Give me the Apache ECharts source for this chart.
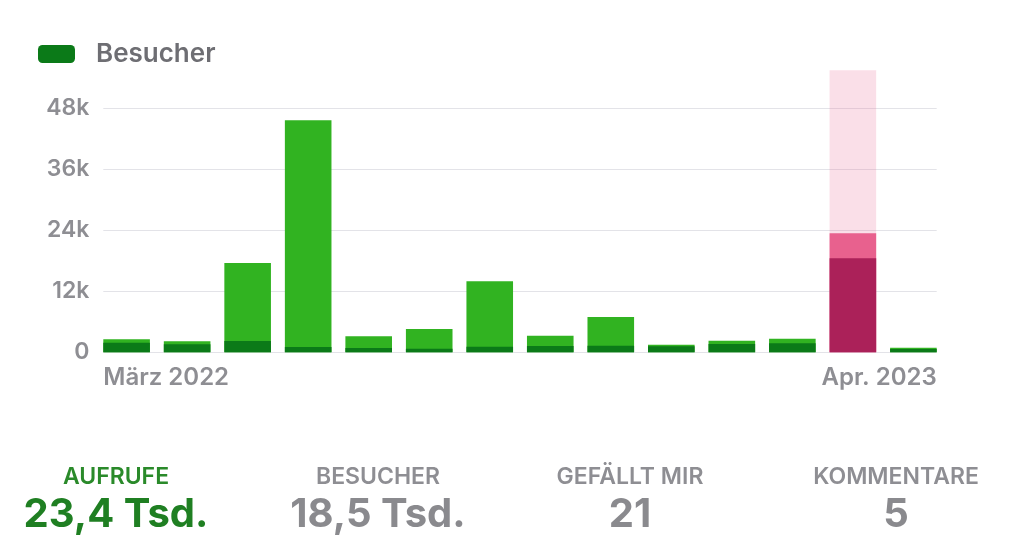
<!DOCTYPE html>
<html>
<head>
<meta charset="utf-8">
<script src="https://cdn.jsdelivr.net/npm/echarts@6/dist/echarts.min.js"></script>
<style>
html,body{margin:0;padding:0;background:#fff;}
#c{width:1023px;height:559px;}
</style>
</head>
<body>
<div id="c"></div>
<script>
// ---- data ----
const months = ["März 2022","Apr. 2022","Mai 2022","Juni 2022","Juli 2022","Aug. 2022","Sept. 2022","Okt. 2022","Nov. 2022","Dez. 2022","Jan. 2023","Feb. 2023","März 2023","Apr. 2023"];
const aufrufe = [2560, 2160, 17570, 45640, 3150, 4580, 13970, 3270, 6940, 1500, 2280, 2680, 23400, 900];
const besucher = [1890, 1570, 2220, 1040, 850, 720, 1100, 1240, 1300, 1180, 1630, 1770, 18500, 650];
const selectedIndex = 12;
const selectionTop = 55500;
const yTickLabels = ["0", "12k", "24k", "36k", "48k"];
const statLabels = ["AUFRUFE", "BESUCHER", "GEFÄLLT MIR", "KOMMENTARE"];
const statValues = ["23,4 Tsd.", "18,5 Tsd.", "21", "5"];

// ---- styles ----
const FONT = 'Inter, Roboto, "Noto Sans", sans-serif';
const C = {
  lightGreen: '#31b321', darkGreen: '#0b7a18',
  selBg: 'rgba(236,120,160,0.24)', selViews: '#e8618e', selVisitors: '#ab2159',
  grid: '#e3e3e8', axisText: '#8e8e93', legendText: '#6e6e73'
};
const xMin = -0.385, xMax = 13.385;
const statCenters = [116, 378, 630, 896];

const chart = echarts.init(document.getElementById('c'), null, {renderer: 'canvas'});

const viewsData = aufrufe.map((v, i) => i === selectedIndex
  ? {value: [i, v], itemStyle: {color: C.selViews}} : {value: [i, v]});
const visitorsData = besucher.map((v, i) => i === selectedIndex
  ? {value: [i, v], itemStyle: {color: C.selVisitors}} : {value: [i, v]});
const selData = months.map((m, i) => i === selectedIndex ? [i, selectionTop] : [i, '-']);

const graphics = [];
statLabels.forEach((t, i) => {
  graphics.push({
    type: 'text', x: statCenters[i], y: 477,
    style: {text: t, fill: i === 0 ? '#2a8a2a' : C.axisText, font: '600 23px ' + FONT,
      textAlign: 'center', textVerticalAlign: 'middle'}
  });
  graphics.push({
    type: 'text', x: statCenters[i], y: 515,
    style: {text: statValues[i], fill: i === 0 ? '#1f7f22' : '#8a8a8e', font: 'bold 40px ' + FONT,
      textAlign: 'center', textVerticalAlign: 'middle'}
  });
});

chart.setOption({
  animation: false,
  backgroundColor: '#fff',
  legend: {
    data: ['Besucher'], left: 33, top: 36,
    icon: 'roundRect', itemWidth: 37, itemHeight: 18,
    textStyle: {color: C.legendText, fontSize: 26, fontFamily: FONT, fontWeight: 600, padding: [0, 0, 0, 16]}
  },
  grid: {left: 103.3, right: 86.3, top: 108.3, bottom: 206.7},
  xAxis: {
    type: 'value', min: xMin, max: xMax,
    splitLine: {show: false}, axisLine: {show: false}, axisTick: {show: false},
    axisLabel: {
      customValues: [xMin, xMax], alignMinLabel: 'left', alignMaxLabel: 'right',
      showMinLabel: true, showMaxLabel: true,
      formatter: v => v < months.length / 2 ? months[0] : months[months.length - 1],
      color: C.axisText, fontSize: 24, fontFamily: FONT, fontWeight: 600, margin: 13
    }
  },
  yAxis: {
    type: 'value', min: 0, max: 48000, interval: 12000,
    axisLine: {show: false}, axisTick: {show: false},
    splitLine: {lineStyle: {color: C.grid, width: 1}},
    axisLabel: {formatter: v => yTickLabels[Math.round(v / 12000)], color: C.axisText,
      fontSize: 23, fontFamily: FONT, fontWeight: 600, margin: 14}
  },
  series: [
    {name: 'Auswahl', type: 'bar', data: selData, barWidth: 46.6, barGap: '-100%', clip: false,
      itemStyle: {color: C.selBg}, silent: true, z: 1},
    {name: 'Aufrufe', type: 'bar', data: viewsData, barWidth: 46.6, barGap: '-100%',
      itemStyle: {color: C.lightGreen}, z: 2},
    {name: 'Besucher', type: 'bar', data: visitorsData, barWidth: 46.6, barGap: '-100%',
      itemStyle: {color: C.darkGreen}, z: 3}
  ],
  graphic: graphics
});
</script>
</body>
</html>
